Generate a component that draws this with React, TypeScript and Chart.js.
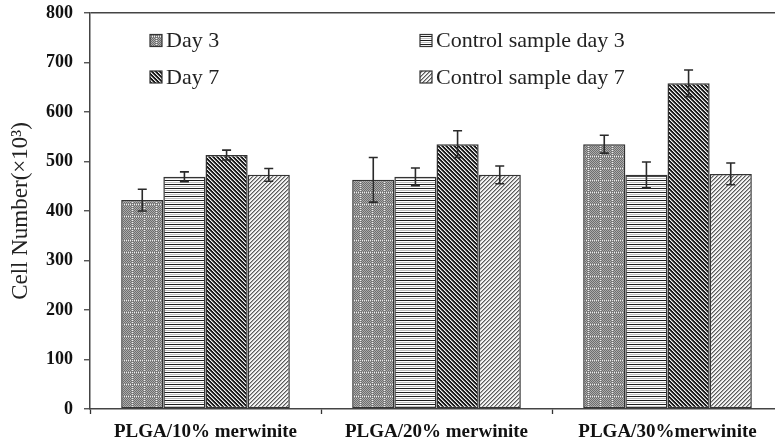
import React, { useEffect, useRef } from "react";
import { Chart, registerables } from "chart.js";

Chart.register(...registerables);

const categories = ["PLGA/10% merwinite", "PLGA/20% merwinite", "PLGA/30%merwinite"];
const seriesNames = ["Day 3", "Control sample day 3", "Day 7", "Control sample day 7"];
const day3 = [422, 463, 535];
const day3Err = [22, 45, 18];
const control3 = [469, 469, 473];
const control3Err = [10, 18, 26];
const day7 = [513, 535, 658];
const day7Err = [10, 27, 27];
const control7 = [473, 473, 475];
const control7Err = [13, 18, 22];
const yTicks = [0, 100, 200, 300, 400, 500, 600, 700, 800];

const SERIF = "'Liberation Serif', 'Times New Roman', serif";

function makeTile(size: number, paint: (x: number, y: number) => string): CanvasPattern {
  const c = document.createElement("canvas");
  c.width = size;
  c.height = size;
  const g = c.getContext("2d")!;
  for (let y = 0; y < size; y++) {
    for (let x = 0; x < size; x++) {
      g.fillStyle = paint(x, y);
      g.fillRect(x, y, 1, 1);
    }
  }
  return g.createPattern(c, "repeat")!;
}

function makePatterns() {
  const dots = makeTile(12, (x, y) => {
    const onLine = x % 12 === 0 || y % 12 === 0;
    if (onLine) return (x + y) % 2 === 0 ? "#eeeeee" : "#808080";
    return (x + y) % 2 === 0 ? "#6e6e6e" : "#ababab";
  });
  const horiz = makeTile(4, (x, y) => (y % 4 === 0 ? "#1e1e1e" : y % 4 === 2 ? "#bdbdbd" : "#ffffff"));
  const back = makeTile(4, (x, y) => {
    const k = (((x - y) % 4) + 4) % 4;
    return k === 0 || k === 1 ? "#1a1a1a" : k === 2 ? "#f2f2f2" : "#8a8a8a";
  });
  const fwd = makeTile(4, (x, y) => {
    const k = (x + y) % 4;
    return k === 0 ? "#5a5a5a" : k === 1 ? "#a8a8a8" : "#f4f4f4";
  });
  return [dots, horiz, back, fwd];
}

export default function App() {
  const ref = useRef<HTMLCanvasElement | null>(null);

  useEffect(() => {
    if (!ref.current) return;
    const patterns = makePatterns();
    const values = [day3, control3, day7, control7];
    const errors = [day3Err, control3Err, day7Err, control7Err];

    const errorBars = {
      id: "errorBars",
      afterDatasetsDraw(chart: any) {
        const { ctx } = chart;
        const yScale = chart.scales.y;
        ctx.save();
        ctx.strokeStyle = "#2a2a2a";
        ctx.lineWidth = 1.6;
        chart.data.datasets.forEach((ds: any, di: number) => {
          const meta = chart.getDatasetMeta(di);
          meta.data.forEach((bar: any, i: number) => {
            const v = ds.data[i];
            const e = ds.errors[i];
            const yt = yScale.getPixelForValue(v + e);
            const yb = yScale.getPixelForValue(v - e);
            const x = bar.x;
            ctx.beginPath();
            ctx.moveTo(x, yt);
            ctx.lineTo(x, yb);
            ctx.moveTo(x - 4.5, yt);
            ctx.lineTo(x + 4.5, yt);
            ctx.moveTo(x - 4.5, yb);
            ctx.lineTo(x + 4.5, yb);
            ctx.stroke();
          });
        });
        ctx.restore();
      },
    };

    const legendPlugin = {
      id: "customLegend",
      afterDraw(chart: any) {
        const { ctx, chartArea } = chart;
        const cols = [chartArea.left + 60, chartArea.left + 330];
        const rows = [chartArea.top + 27.5, chartArea.top + 64];
        ctx.save();
        chart.data.datasets.forEach((ds: any, di: number) => {
          const cx = cols[di % 2];
          const cy = rows[Math.floor(di / 2)];
          ctx.fillStyle = ds.backgroundColor;
          ctx.fillRect(cx, cy - 6, 12, 12);
          ctx.strokeStyle = "#333";
          ctx.lineWidth = 1.2;
          ctx.strokeRect(cx, cy - 6, 12, 12);
          ctx.fillStyle = "#222";
          ctx.font = `22px ${SERIF}`;
          ctx.textBaseline = "middle";
          ctx.textAlign = "left";
          ctx.fillText(ds.label, cx + 16, cy + 1);
        });
        ctx.restore();
      },
    };

    const chart = new Chart(ref.current, {
      type: "bar",
      data: {
        labels: categories,
        datasets: seriesNames.map((name, i) => ({
          label: name,
          data: values[i],
          errors: errors[i],
          backgroundColor: patterns[i] as any,
          borderColor: "#333",
          borderWidth: 1.5,
          borderSkipped: false,
          categoryPercentage: 0.73,
          barPercentage: 1,
        })) as any,
      },
      options: {
        responsive: false,
        animation: false,
        devicePixelRatio: 1,
        layout: { autoPadding: false, padding: { top: 13, right: 7, left: 0, bottom: 0 } },
        plugins: {
          legend: { display: false },
          tooltip: { enabled: false },
        },
        scales: {
          x: {
            afterFit(scale: any) {
              scale.height = 33;
            },
            grid: {
              offset: true,
              drawOnChartArea: false,
              tickLength: 5,
              tickColor: "#333",
              tickWidth: 1.3,
            },
            border: { color: "#444", width: 1.5 },
            ticks: {
              padding: 7,
              color: "#111",
              maxRotation: 0,
              font: { family: SERIF, size: 19, weight: "bold" },
            },
          },
          y: {
            min: 0,
            max: 800,
            afterFit(scale: any) {
              scale.width = 90;
              scale.paddingTop = 0;
              scale.paddingBottom = 0;
            },
            afterBuildTicks(scale: any) {
              scale.ticks = yTicks.map((v) => ({ value: v }));
            },
            grid: {
              color: (c: any) => (c.tick && c.tick.value === 800 ? "#444" : "rgba(0,0,0,0)"),
              lineWidth: 1.5,
              tickLength: 6,
              tickColor: "#444",
              tickWidth: 1.3,
            },
            border: { color: "#444", width: 1.5 },
            ticks: {
              padding: 11,
              color: "#111",
              font: { family: SERIF, size: 18, weight: "bold", lineHeight: 0.1 },
            },
            title: {
              display: true,
              text: "Cell Number(×10³)",
              color: "#222",
              padding: { top: 7, bottom: 0 },
              font: { family: SERIF, size: 23 },
            },
          },
        },
      },
      plugins: [errorBars, legendPlugin],
    } as any);

    return () => chart.destroy();
  }, []);

  return (
    <div style={{ position: "fixed", left: 0, top: 0, width: 790, height: 442, background: "#fff" }}>
      <canvas ref={ref} width={790} height={442} style={{ width: 790, height: 442, display: "block" }} />
    </div>
  );
}
